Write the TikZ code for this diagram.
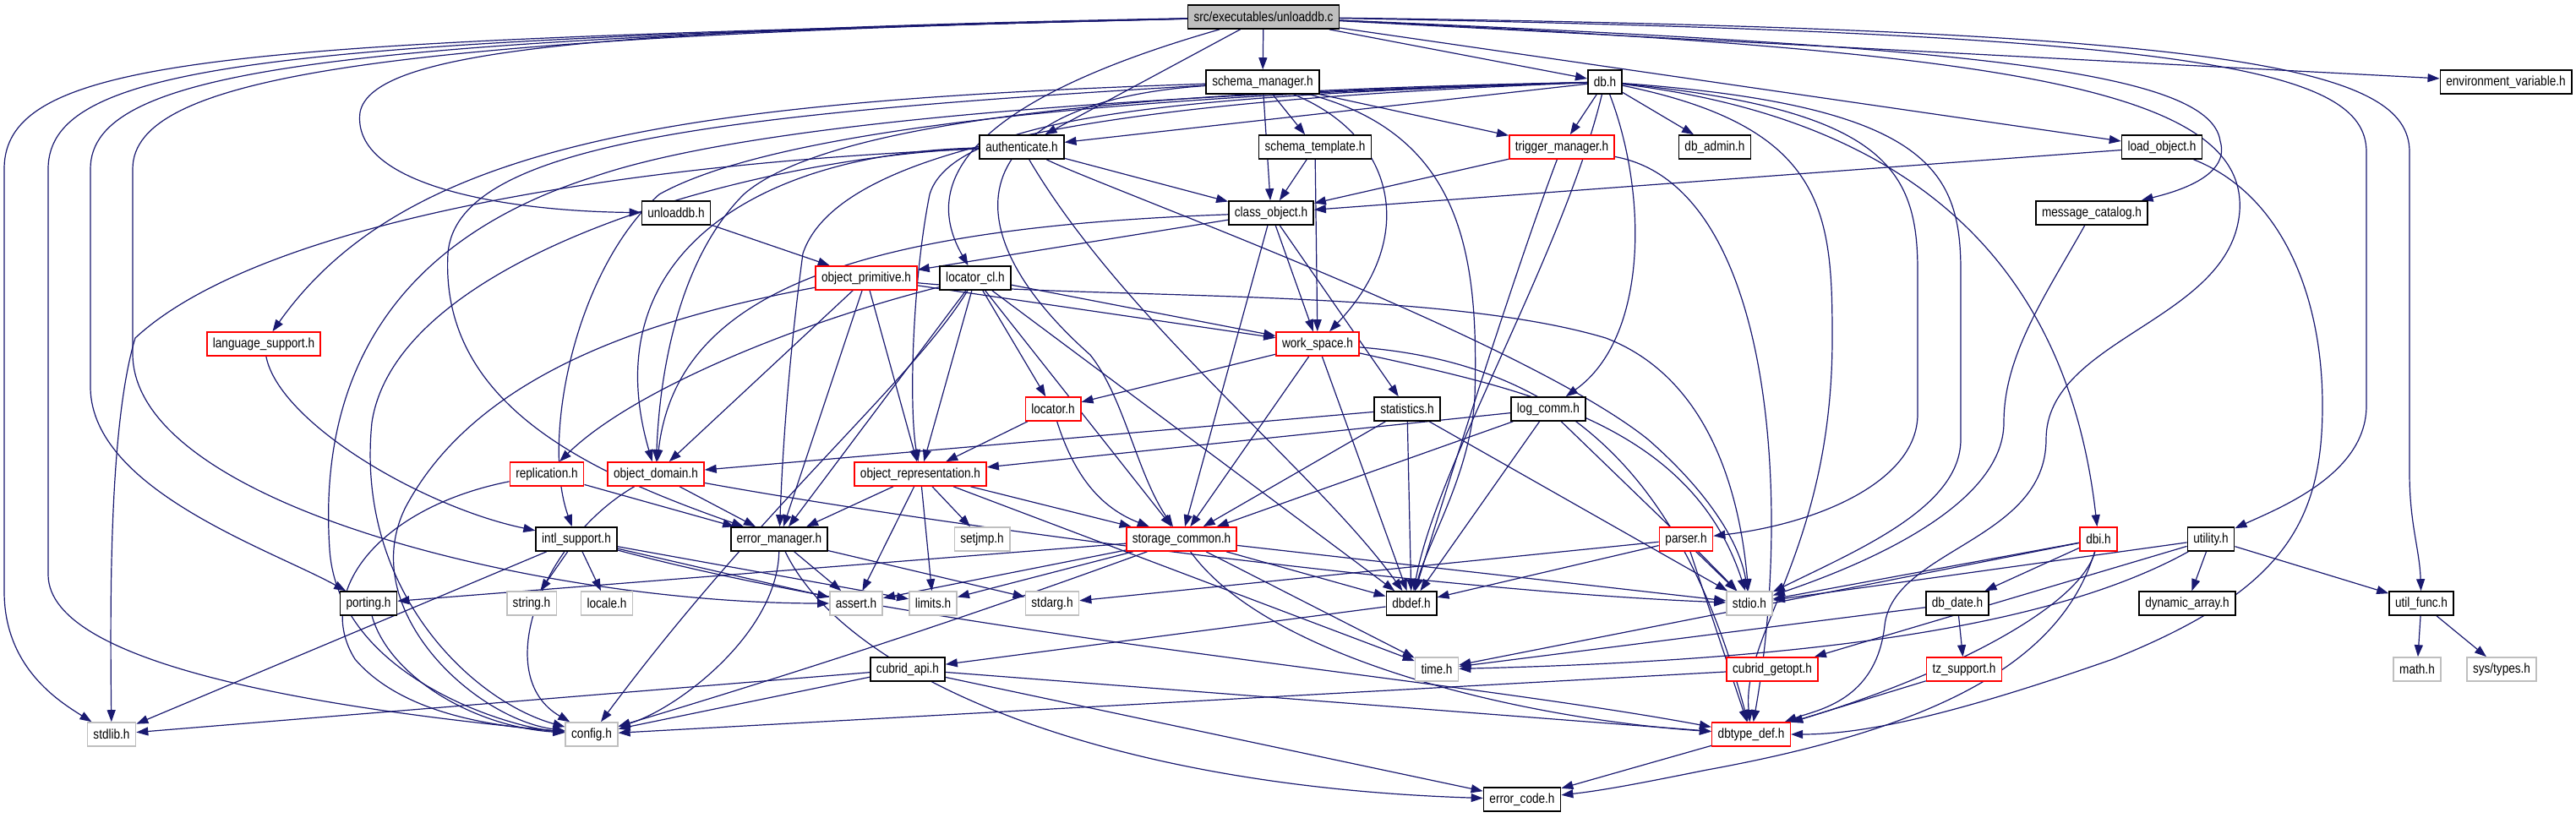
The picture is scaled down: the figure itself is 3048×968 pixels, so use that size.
\documentclass[tikz,border=0pt]{standalone}
\usepackage{fontspec}
\setmainfont{Liberation Sans}[FakeStretch=0.85]
\usetikzlibrary{arrows.meta,backgrounds}
\definecolor{edgeblue}{HTML}{191970}
\definecolor{boxgray}{HTML}{BFBFBF}
\begin{document}
\begin{tikzpicture}[x=0.5pt, y=-0.5pt,
    hdr/.style={draw=black, line width=0.8pt, fill=white, inner xsep=3.5pt, inner ysep=0pt,
      minimum height=14pt, font=\fontsize{8}{9}\selectfont},
    trunc/.style={hdr, draw=red},
    sys/.style={hdr, draw=boxgray},
    top/.style={hdr, fill=boxgray},
    dep/.style={draw=edgeblue, line width=0.6pt, -{Triangle[length=7pt,width=5pt]}}]
    \useasboundingbox (0,0) rectangle (3048,968);
    % rows of headers
    \node[top] (root) at (1495,20) {src/executables/unloaddb.c};
    \node[hdr] (schemamgr) at (1494,97) {schema\_manager.h};
    \node[hdr] (dbh) at (1899,97) {db.h};
    \node[hdr] (envvar) at (2965,97) {environment\_variable.h};
    \node[hdr] (auth) at (1209,174) {authenticate.h};
    \node[hdr] (schematpl) at (1556,174) {schema\_template.h};
    \node[trunc] (trigmgr) at (1848,174) {trigger\_manager.h};
    \node[hdr] (dbadmin) at (2029,174) {db\_admin.h};
    \node[hdr] (loadobj) at (2558,174) {load\_object.h};
    \node[hdr] (unloadh) at (800,252) {unloaddb.h};
    \node[hdr] (classobj) at (1504,252) {class\_object.h};
    \node[hdr] (msgcat) at (2475,252) {message\_catalog.h};
    \node[trunc] (objprim) at (1025,329) {object\_primitive.h};
    \node[hdr] (loccl) at (1154,329) {locator\_cl.h};
    \node[trunc] (langsup) at (312,407) {language\_support.h};
    \node[trunc] (workspace) at (1559,407) {work\_space.h};
    \node[trunc] (locator) at (1246,484) {locator.h};
    \node[hdr] (stats) at (1665,484) {statistics.h};
    \node[hdr] (logcomm) at (1832,484) {log\_comm.h};
    \node[trunc] (repl) at (647,561) {replication.h};
    \node[trunc] (objdomain) at (776,561) {object\_domain.h};
    \node[trunc] (objrep) at (1089,561) {object\_representation.h};
    \node[hdr] (intl) at (682,638) {intl\_support.h};
    \node[hdr] (errmgr) at (922,638) {error\_manager.h};
    \node[sys] (setjmp) at (1162,638) {setjmp.h};
    \node[trunc] (storage) at (1398,638) {storage\_common.h};
    \node[trunc] (parser) at (1995,638) {parser.h};
    \node[trunc] (dbi) at (2483,638) {dbi.h};
    \node[hdr] (utility) at (2616,638) {utility.h};
    \node[hdr] (porting) at (436,714) {porting.h};
    \node[sys] (stringh) at (629,714) {string.h};
    \node[sys] (localeh) at (718,714) {locale.h};
    \node[sys] (assert) at (1013,714) {assert.h};
    \node[sys] (limits) at (1104,714) {limits.h};
    \node[sys] (stdarg) at (1245,714) {stdarg.h};
    \node[hdr] (dbdef) at (1670,714) {dbdef.h};
    \node[sys] (stdio) at (2070,714) {stdio.h};
    \node[hdr] (dbdate) at (2316,714) {db\_date.h};
    \node[hdr] (dynarr) at (2588,714) {dynamic\_array.h};
    \node[hdr] (utilfunc) at (2865,714) {util\_func.h};
    \node[hdr] (cubridapi) at (1074,792) {cubrid\_api.h};
    \node[sys] (timeh) at (1700,792) {time.h};
    \node[trunc] (getopt) at (2097,792) {cubrid\_getopt.h};
    \node[trunc] (tzsup) at (2324,792) {tz\_support.h};
    \node[sys] (mathh) at (2860,792) {math.h};
    \node[sys] (systypes) at (2960,792) {sys/types.h};
    \node[sys] (stdlib) at (132,869) {stdlib.h};
    \node[sys] (config) at (700,869) {config.h};
    \node[trunc] (dbtype) at (2072,869) {dbtype\_def.h};
    \node[hdr] (errcode) at (1801,946) {error\_code.h};

    \begin{scope}[on background layer]
    % unloaddb.c
    \draw[dep] (root) -- (schemamgr);
    \draw[dep] (root) -- (dbh);
    \draw[dep] (root) -- (auth);
    \draw[dep] (root) -- (envvar);
    \draw[dep] (root) -- (loadobj);
    \draw[dep] (root) .. controls (1180,110) and (1080,200) .. (loccl);
    \draw[dep] (root) .. controls (700,35) and (440,60) .. (426,133) .. controls (415,220) and (600,250) .. (unloadh);
    \draw[dep] (root) .. controls (300,50) and (5,60) .. (5,200) -- (5,700) .. controls (5,790) and (70,830) .. (stdlib);
    \draw[dep] (root) .. controls (350,48) and (57,70) .. (57,200) -- (57,680) .. controls (57,790) and (400,840) .. (config);
    \draw[dep] (root) .. controls (400,46) and (107,80) .. (107,200) -- (107,460) .. controls (110,580) and (320,650) .. (porting);
    \draw[dep] (root) .. controls (450,44) and (157,90) .. (157,200) -- (157,420) .. controls (160,600) and (650,714) .. (assert);
    \draw[dep] (root) .. controls (2300,55) and (2615,80) .. (2627,167) .. controls (2640,210) and (2570,228) .. (msgcat);
    \draw[dep] (root) .. controls (2600,40) and (2800,80) .. (2800,180) -- (2800,480) .. controls (2800,560) and (2700,600) .. (utility);
    \draw[dep] (root) .. controls (2650,35) and (2851,80) .. (2851,180) -- (2851,560) .. controls (2851,620) and (2863,650) .. (utilfunc);
    \draw[dep] (root) .. controls (2350,60) and (2660,100) .. (2650,250) .. controls (2640,380) and (2421,400) .. (2421,520)
      .. controls (2421,640) and (2240,650) .. (2230,740) .. controls (2220,830) and (2150,840) .. (dbtype);
    % schema_manager.h
    \draw[dep] (schemamgr) -- (classobj);
    \draw[dep] (schemamgr) -- (schematpl);
    \draw[dep] (schemamgr) -- (trigmgr);
    \draw[dep] (schemamgr) .. controls (1650,160) and (1680,280) .. (workspace);
    \draw[dep] (schemamgr) .. controls (800,120) and (480,170) .. (langsup);
    \draw[dep] (schemamgr) .. controls (1150,120) and (1110,260) .. (1290,420) .. controls (1330,470) and (1345,560) .. (storage);
    \draw[dep] (schemamgr) .. controls (1730,160) and (1750,300) .. (1745,470) .. controls (1740,560) and (1690,640) .. (dbdef);
    \draw[dep] (schemamgr) .. controls (850,135) and (540,170) .. (530,300) .. controls (520,480) and (700,560) .. (errmgr);
    % db.h
    \draw[dep] (dbh) -- (auth);
    \draw[dep] (dbh) -- (trigmgr);
    \draw[dep] (dbh) -- (dbadmin);
    \draw[dep] (dbh) .. controls (1950,230) and (1950,400) .. (logcomm);
    \draw[dep] (dbh) .. controls (2250,140) and (2445,300) .. (dbi);
    \draw[dep] (dbh) .. controls (2230,130) and (2269,200) .. (2269,320) -- (2269,490) .. controls (2269,570) and (2150,620) .. (parser);
    \draw[dep] (dbh) .. controls (2280,125) and (2320,200) .. (2320,320) -- (2320,520) .. controls (2320,600) and (2200,650) .. (stdio);
    \draw[dep] (dbh) .. controls (2160,150) and (2168,250) .. (2168,400) .. controls (2168,650) and (2060,750) .. (dbtype);
    \draw[dep] (dbh) .. controls (1500,105) and (1000,125) .. (880,230) .. controls (800,310) and (780,450) .. (objdomain);
    \draw[dep] (dbh) .. controls (1500,108) and (950,135) .. (780,230) .. controls (680,320) and (640,520) .. (intl);
    \draw[dep] (dbh) .. controls (1400,110) and (900,140) .. (700,210) .. controls (420,300) and (380,500) .. (390,650)
      .. controls (400,800) and (600,860) .. (config);
    \draw[dep] (dbh) .. controls (1450,112) and (1130,130) .. (1100,230) .. controls (1080,330) and (1075,480) .. (objrep);
    \draw[dep] (dbh) .. controls (1450,115) and (1000,150) .. (950,300) .. controls (930,450) and (925,560) .. (errmgr);
    \draw[dep] (dbh) .. controls (1850,300) and (1700,550) .. (dbdef);
    % authenticate.h
    \draw[dep] (auth) -- (classobj);
    \draw[dep] (auth) .. controls (1300,220) and (1800,400) .. (1950,520) .. controls (2030,590) and (2060,650) .. (stdio);
    \draw[dep] (auth) .. controls (1330,380) and (1560,560) .. (dbdef);
    \draw[dep] (auth) .. controls (900,180) and (700,300) .. (objdomain);
    \draw[dep] (auth) .. controls (900,185) and (470,300) .. (440,500) .. controls (420,700) and (560,830) .. (config);
    \draw[dep] (auth) .. controls (700,195) and (300,270) .. (160,400) .. controls (130,500) and (130,700) .. (stdlib);
    % second row
    \draw[dep] (schematpl) -- (classobj);
    \draw[dep] (schematpl) -- (workspace);
    \draw[dep] (trigmgr) -- (classobj);
    \draw[dep] (trigmgr) .. controls (1800,300) and (1720,550) .. (dbdef);
    \draw[dep] (trigmgr) .. controls (2100,220) and (2120,600) .. (dbtype);
    \draw[dep] (loadobj) -- (classobj);
    \draw[dep] (loadobj) .. controls (2700,230) and (2748,350) .. (2748,480) .. controls (2748,620) and (2700,700) .. (2500,780)
      .. controls (2300,850) and (2200,869) .. (dbtype);
    \draw[dep] (unloadh) -- (objprim);
    % class_object.h
    \draw[dep] (classobj) -- (objprim);
    \draw[dep] (classobj) -- (workspace);
    \draw[dep] (classobj) -- (storage);
    \draw[dep] (classobj) -- (stats);
    \draw[dep] (classobj) .. controls (1000,270) and (800,350) .. (objdomain);
    \draw[dep] (msgcat) .. controls (2420,350) and (2371,420) .. (2371,500) .. controls (2371,600) and (2200,670) .. (stdio);
    % object_primitive.h
    \draw[dep] (objprim) -- (workspace);
    \draw[dep] (objprim) -- (objdomain);
    \draw[dep] (objprim) -- (errmgr);
    \draw[dep] (objprim) -- (objrep);
    \draw[dep] (objprim) .. controls (750,380) and (560,450) .. (480,600) .. controls (420,720) and (560,850) .. (config);
    \draw[dep] (objprim) .. controls (1300,355) and (1700,340) .. (1900,400) .. controls (2030,450) and (2060,600) .. (stdio);
    % locator_cl.h
    \draw[dep] (loccl) -- (workspace);
    \draw[dep] (loccl) -- (locator);
    \draw[dep] (loccl) .. controls (950,380) and (750,460) .. (repl);
    \draw[dep] (loccl) -- (errmgr);
    \draw[dep] (loccl) -- (objrep);
    \draw[dep] (loccl) -- (storage);
    \draw[dep] (loccl) -- (dbdef);
    \draw[dep] (loccl) .. controls (1080,450) and (900,600) .. (config);
    \draw[dep] (langsup) .. controls (330,500) and (500,600) .. (intl);
    % work_space.h
    \draw[dep] (workspace) -- (locator);
    \draw[dep] (workspace) -- (storage);
    \draw[dep] (workspace) -- (dbdef);
    \draw[dep] (workspace) .. controls (1800,460) and (2000,500) .. (stdio);
    \draw[dep] (workspace) .. controls (1850,430) and (1990,560) .. (dbtype);
    % locator.h, statistics.h, log_comm.h
    \draw[dep] (locator) -- (objrep);
    \draw[dep] (locator) .. controls (1270,560) and (1300,600) .. (storage);
    \draw[dep] (stats) -- (objdomain);
    \draw[dep] (stats) -- (storage);
    \draw[dep] (stats) -- (dbdef);
    \draw[dep] (stats) -- (stdio);
    \draw[dep] (logcomm) -- (objrep);
    \draw[dep] (logcomm) -- (storage);
    \draw[dep] (logcomm) -- (dbdef);
    \draw[dep] (logcomm) -- (stdio);
    % replication.h, object_domain.h, object_representation.h
    \draw[dep] (repl) -- (errmgr);
    \draw[dep] (repl) .. controls (450,600) and (370,700) .. (420,780) .. controls (480,850) and (600,860) .. (config);
    \draw[dep] (objdomain) -- (errmgr);
    \draw[dep] (objdomain) .. controls (1100,620) and (1700,700) .. (stdio);
    \draw[dep] (objdomain) .. controls (640,640) and (580,800) .. (config);
    \draw[dep] (objrep) -- (errmgr);
    \draw[dep] (objrep) -- (storage);
    \draw[dep] (objrep) -- (setjmp);
    \draw[dep] (objrep) -- (assert);
    \draw[dep] (objrep) -- (limits);
    \draw[dep] (objrep) -- (timeh);
    % intl_support.h
    \draw[dep] (intl) -- (stringh);
    \draw[dep] (intl) -- (localeh);
    \draw[dep] (intl) -- (assert);
    \draw[dep] (intl) -- (limits);
    \draw[dep] (intl) -- (stdlib);
    \draw[dep] (intl) .. controls (1100,750) and (1700,800) .. (dbtype);
    % error_manager.h
    \draw[dep] (errmgr) -- (assert);
    \draw[dep] (errmgr) -- (stdarg);
    \draw[dep] (errmgr) .. controls (920,750) and (800,840) .. (config);
    \draw[dep] (errmgr) .. controls (1000,800) and (1300,930) .. (errcode);
    % storage_common.h
    \draw[dep] (storage) -- (porting);
    \draw[dep] (storage) -- (assert);
    \draw[dep] (storage) -- (limits);
    \draw[dep] (storage) -- (dbdef);
    \draw[dep] (storage) -- (timeh);
    \draw[dep] (storage) -- (stdio);
    \draw[dep] (storage) .. controls (1500,780) and (1800,850) .. (dbtype);
    \draw[dep] (storage) .. controls (1195,712) and (1000,779) .. (config);
    % parser.h, dbi.h, utility.h
    \draw[dep] (parser) -- (dbdef);
    \draw[dep] (parser) -- (stdio);
    \draw[dep] (parser) -- (stdarg);
    \draw[dep] (parser) -- (dbtype);
    \draw[dep] (dbi) -- (stdio);
    \draw[dep] (dbi) -- (dbdate);
    \draw[dep] (dbi) -- (timeh);
    \draw[dep] (dbi) .. controls (2460,720) and (2300,800) .. (dbtype);
    \draw[dep] (dbi) .. controls (2440,780) and (2300,860) .. (2020,911) .. controls (1950,925) and (1900,935) .. (errcode);
    \draw[dep] (utility) -- (dynarr);
    \draw[dep] (utility) -- (utilfunc);
    \draw[dep] (utility) -- (stdio);
    \draw[dep] (utility) -- (getopt);
    \draw[dep] (utility) .. controls (2450,730) and (2200,780) .. (timeh);
    % lower rows
    \draw[dep] (dbdate) -- (tzsup);
    \draw[dep] (dbdate) -- (timeh);
    \draw[dep] (getopt) -- (config);
    \draw[dep] (utilfunc) -- (mathh);
    \draw[dep] (utilfunc) -- (systypes);
    \draw[dep] (dbdef) -- (cubridapi);
    \draw[dep] (cubridapi) -- (stdlib);
    \draw[dep] (cubridapi) -- (config);
    \draw[dep] (cubridapi) -- (dbtype);
    \draw[dep] (cubridapi) -- (errcode);
    \draw[dep] (tzsup) -- (dbtype);
    \draw[dep] (dbtype) -- (errcode);
    \draw[dep] (porting) .. controls (460,800) and (560,860) .. (config);
    \end{scope}
  \end{tikzpicture}
\end{document}
